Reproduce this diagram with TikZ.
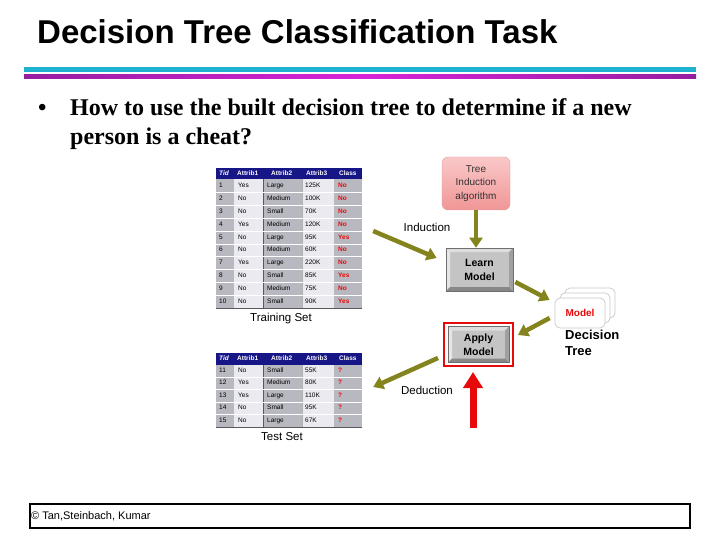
\documentclass[tikz,border=0pt]{standalone}
\usepackage{fontspec}
\setmainfont{Liberation Serif}
\setsansfont{Liberation Sans}
\usepackage{tikz}
\usetikzlibrary{arrows.meta, positioning, calc}
\definecolor{titlecyan}{RGB}{30, 176, 204}
\definecolor{linepurple}{RGB}{150, 30, 160}
\definecolor{linemagenta}{RGB}{215, 35, 215}
\definecolor{headnavy}{RGB}{22, 22, 135}
\definecolor{colgray}{RGB}{184, 184, 192}
\definecolor{collight}{RGB}{234, 234, 240}
\definecolor{clsred}{RGB}{230, 10, 10}
\definecolor{arrowolive}{RGB}{132, 132, 30}
\definecolor{pinktop}{RGB}{250, 200, 200}
\definecolor{pinkbot}{RGB}{240, 150, 150}
\definecolor{pinkedge}{RGB}{225, 160, 160}
\definecolor{btnface}{RGB}{196, 196, 196}
\definecolor{btntop}{RGB}{222, 222, 222}
\definecolor{btnleft}{RGB}{230, 230, 230}
\definecolor{btnbottom}{RGB}{135, 135, 135}
\definecolor{btnright}{RGB}{160, 160, 160}
\definecolor{btnedge}{RGB}{110, 110, 110}
\definecolor{cardedge}{RGB}{200, 200, 200}

\begin{document}
\begin{tikzpicture}[x=1pt, y=-1pt, every node/.style={font=\sffamily},
    cell/.style={font=\sffamily\fontsize{6.5}{7}\selectfont, anchor=west, inner sep=0,
      text height=4.8pt, text depth=1.4pt},
    headcell/.style={cell, text=white, font=\sffamily\bfseries\fontsize{6.5}{7}\selectfont},
    clscell/.style={cell, text=clsred, font=\sffamily\bfseries\fontsize{6.5}{7}\selectfont},
    tablebox/.style={inner sep=0, minimum width=146pt},
    caption/.style={font=\sffamily\fontsize{11.5}{13}\selectfont, inner sep=0},
    flowarrow/.style={-{Triangle[length=10pt, width=13pt]}, arrowolive, line width=4.5pt},
    bevelbox/.style={fill=btnface, draw=btnedge, line width=0.6pt, inner sep=0, align=center,
      font=\sffamily\bfseries\fontsize{10.5}{14}\selectfont,
      path picture={
        \fill[btntop] (path picture bounding box.north west) -- (path picture bounding box.north east)
          -- ([shift={(-4pt,-4pt)}]path picture bounding box.north east)
          -- ([shift={(4pt,-4pt)}]path picture bounding box.north west) -- cycle;
        \fill[btnleft] (path picture bounding box.north west) -- (path picture bounding box.south west)
          -- ([shift={(4pt,4pt)}]path picture bounding box.south west)
          -- ([shift={(4pt,-4pt)}]path picture bounding box.north west) -- cycle;
        \fill[btnbottom] (path picture bounding box.south west) -- (path picture bounding box.south east)
          -- ([shift={(-4pt,4pt)}]path picture bounding box.south east)
          -- ([shift={(4pt,4pt)}]path picture bounding box.south west) -- cycle;
        \fill[btnright] (path picture bounding box.north east) -- (path picture bounding box.south east)
          -- ([shift={(-4pt,4pt)}]path picture bounding box.south east)
          -- ([shift={(-4pt,-4pt)}]path picture bounding box.north east) -- cycle;
      }},
    modelcard/.style={fill=white, draw=cardedge, line width=0.7pt, rounded corners=5pt,
      minimum width=50pt, minimum height=30pt, inner sep=0}]
  \useasboundingbox (0,0) rectangle (720,540);
  \fill[white] (0,0) rectangle (720,540);

  % Title and rules
  \node[anchor=base west, inner sep=0, font=\sffamily\bfseries\fontsize{33}{38}\selectfont]
    (title) at (37,44) {Decision Tree Classification Task};
  \fill[titlecyan] (24,67) rectangle (696,72);
  \shade[left color=linepurple, right color=linepurple, middle color=linemagenta]
    (24,75) rectangle (696,79);

  % Question
  \node[anchor=base west, inner sep=0, font=\bfseries\fontsize{24}{29}\selectfont]
    (bullet) at (38,116) {\textbullet};
  \node[anchor=base west, inner sep=0, align=left, font=\bfseries\fontsize{24}{29}\selectfont]
    (question) at (70,145) {How to use the built decision tree to determine if a new\\person is a cheat?};

  % Table backgrounds
  \foreach \ytop/\ybot in {168/308, 353/427} {
    \fill[headnavy] (216,\ytop) rectangle (362,\ytop+11.5);
    \foreach \xa/\xb/\col in {216/234/colgray, 234/263/collight, 263/302/colgray, 302/334/collight, 334/362/colgray}
      \fill[\col] (\xa,\ytop+11.5) rectangle (\xb,\ybot);
    \draw[gray!70!black, line width=0.6pt] (263,\ytop+11.5) -- (263,\ybot);
    \draw[gray!60, line width=0.4pt] (302,\ytop+11.5) -- (302,\ybot);
    \draw[gray!70!black, line width=0.7pt] (216,\ybot) -- (362,\ybot);
    \node[headcell, font=\sffamily\bfseries\itshape\fontsize{6.5}{7}\selectfont] at (219,\ytop+5.75) {Tid};
    \node[headcell] at (237,\ytop+5.75) {Attrib1};
    \node[headcell] at (271,\ytop+5.75) {Attrib2};
    \node[headcell] at (306,\ytop+5.75) {Attrib3};
    \node[headcell] at (339,\ytop+5.75) {Class};
  }

  % Training set
  \node[tablebox, minimum height=140pt] (train) at (289,238) {};
  \foreach \r in {1,...,9}
    \draw[white, line width=0.5pt] (216,{179.5+12.85*\r}) -- (362,{179.5+12.85*\r});
  \foreach \tid/\aa/\bb/\cc/\cls [count=\r] in {1/Yes/Large/125K/No, 2/No/Medium/100K/No,
      3/No/Small/70K/No, 4/Yes/Medium/120K/No, 5/No/Large/95K/Yes, 6/No/Medium/60K/No,
      7/Yes/Large/220K/No, 8/No/Small/85K/Yes, 9/No/Medium/75K/No, 10/No/Small/90K/Yes} {
    \node[cell] (trt\r) at (219,{173.1+12.85*\r}) {\tid};
    \node[cell] (tra\r) at (238,{173.1+12.85*\r}) {\aa};
    \node[cell] (trb\r) at (267,{173.1+12.85*\r}) {\bb};
    \node[cell] (trc\r) at (305,{173.1+12.85*\r}) {\cc};
    \node[clscell] (trk\r) at (338,{173.1+12.85*\r}) {\cls};
  }
  \node[caption] (traincap) at (281,319) {Training Set};

  % Test set
  \node[tablebox, minimum height=74pt] (test) at (289,390) {};
  \foreach \r in {1,...,4}
    \draw[white, line width=0.5pt] (216,{364.5+12.5*\r}) -- (362,{364.5+12.5*\r});
  \foreach \tid/\aa/\bb/\cc [count=\r] in {11/No/Small/55K, 12/Yes/Medium/80K,
      13/Yes/Large/110K, 14/No/Small/95K, 15/No/Large/67K} {
    \node[cell] (tet\r) at (219,{358.25+12.5*\r}) {\tid};
    \node[cell] (tea\r) at (238,{358.25+12.5*\r}) {\aa};
    \node[cell] (teb\r) at (267,{358.25+12.5*\r}) {\bb};
    \node[cell] (tec\r) at (305,{358.25+12.5*\r}) {\cc};
    \node[clscell] (tek\r) at (338,{358.25+12.5*\r}) {?};
  }
  \node[caption] (testcap) at (282,437) {Test Set};

  % Learning side
  \node[rounded corners=6pt, top color=pinktop, bottom color=pinkbot, draw=pinkedge,
    minimum width=68pt, minimum height=53pt, inner sep=0, align=center, text=black!80,
    font=\sffamily\fontsize{10}{13.5}\selectfont]
    (algo) at (476,183.5) {Tree\\Induction\\algorithm};
  \node[bevelbox, minimum width=67pt, minimum height=43pt] (learn) at (479.5,269.5) {Learn\\Model};

  % Model cards
  \node[modelcard] (card3) at (590,303) {};
  \node[modelcard] (card2) at (585,308) {};
  \node[modelcard, text=clsred, font=\sffamily\bfseries\fontsize{10}{12}\selectfont]
    (card1) at (580,313) {Model};
  \node[anchor=north west, inner sep=0, align=left, font=\sffamily\bfseries\fontsize{13}{16}\selectfont]
    (dtree) at (565,330) {Decision\\Tree};

  % Applying side
  \node[draw=clsred, line width=2pt, minimum width=69pt, minimum height=43pt, inner sep=0]
    (apply) at (478.5,344.5) {};
  \node[bevelbox, minimum width=61pt, minimum height=36pt] (applybtn) at (apply.center) {Apply\\Model};

  % Connectors
  \draw[flowarrow] ($(train.east)+(11,-7)$) -- ($(learn.west)+(-9,-11.5)$);
  \draw[flowarrow] (algo.south) -- (algo.south |- learn.north);
  \draw[flowarrow] ($(learn.east)+(2,12.5)$) -- ($(card1.west)+(-5,-13)$);
  \draw[flowarrow] ($(card1.west)+(-5,5)$) -- ($(apply.east)+(4,-9.5)$);
  \draw[flowarrow] ($(apply.west)+(-5,13.5)$) -- ($(test.east)+(11,-3)$);
  \coordinate (query) at (473,428);
  \draw[-{Triangle[length=16pt, width=19pt]}, clsred, line width=7pt, shorten >=5pt]
    (query) -- (query |- apply.south);
  \node[caption] (induct) at (427,227) {Induction};
  \node[caption] (deduct) at (427,390) {Deduction};

  % Footer
  \node[draw, line width=2pt, minimum width=660pt, minimum height=24pt, inner sep=0]
    (footer) at (360,516) {};
  \node[anchor=west, inner sep=0, font=\sffamily\fontsize{11}{13}\selectfont]
    (credit) at (31,516) {© Tan,Steinbach, Kumar};
\end{tikzpicture}
\end{document}
